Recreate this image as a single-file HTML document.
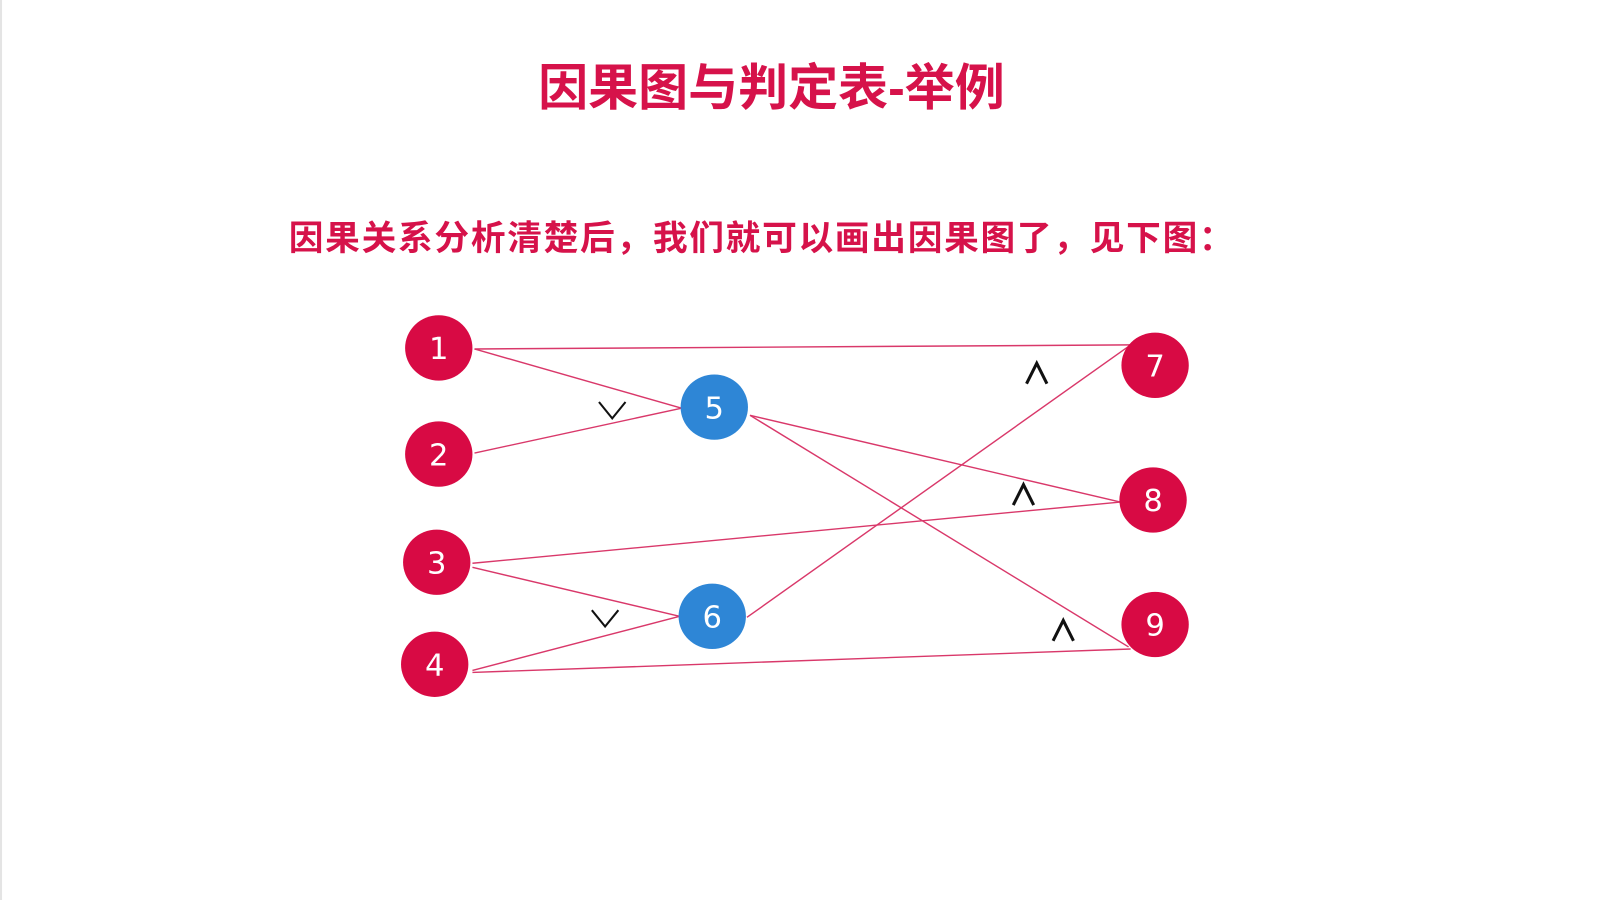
<!DOCTYPE html>
<html><head><meta charset="utf-8"><style>
html,body{margin:0;padding:0;background:#fff;width:1600px;height:900px;overflow:hidden}
svg{display:block}
</style></head><body>
<svg width="1600" height="900" viewBox="0 0 1568 882" xmlns="http://www.w3.org/2000/svg">
<rect x="0" y="0" width="1568" height="882" fill="#fff"/>
<line x1="1" y1="0" x2="1" y2="882" stroke="#e4e4e4" stroke-width="2"/>
<text x="756" y="103" text-anchor="middle" font-family="Liberation Sans, Noto Sans CJK SC, sans-serif" font-weight="bold" font-size="49" fill="#d6124a">因果图与判定表-举例</text>
<text x="283" y="245" font-family="Liberation Sans, Noto Sans CJK SC, sans-serif" font-weight="bold" font-size="34" fill="#d6124a" textLength="926">因果关系分析清楚后，我们就可以画出因果图了，见下图：</text>
<g stroke="#d9386a" stroke-width="1.4" fill="none">
<line x1="465" y1="342" x2="1108" y2="338"/>
<line x1="465" y1="342" x2="668" y2="400"/>
<line x1="465" y1="444" x2="668" y2="400"/>
<line x1="735" y1="407" x2="1098" y2="492"/>
<line x1="735" y1="407" x2="1106" y2="634"/>
<line x1="463" y1="552" x2="1098" y2="492"/>
<line x1="463" y1="556" x2="666" y2="604"/>
<line x1="463" y1="657" x2="666" y2="604"/>
<line x1="463" y1="659" x2="1108" y2="636"/>
<line x1="732" y1="605" x2="1108" y2="338"/>
</g>
<g fill="#d80a44">
<ellipse cx="430" cy="341" rx="33" ry="32"/>
<ellipse cx="430" cy="445" rx="33" ry="32"/>
<ellipse cx="428" cy="551" rx="33" ry="32"/>
<ellipse cx="426" cy="651" rx="33" ry="32"/>
<ellipse cx="1132" cy="358" rx="33" ry="32"/>
<ellipse cx="1130" cy="490" rx="33" ry="32"/>
<ellipse cx="1132" cy="612" rx="33" ry="32"/>
</g>
<g fill="#2e86d6">
<ellipse cx="700" cy="399" rx="33" ry="32"/>
<ellipse cx="698" cy="604" rx="33" ry="32"/>
</g>
<g font-family="DejaVu Sans, Liberation Sans, sans-serif" font-size="30" fill="#fff" text-anchor="middle">
<text x="430" y="352">1</text><text x="430" y="456">2</text><text x="428" y="562">3</text><text x="426" y="662">4</text>
<text x="700" y="410">5</text><text x="698" y="615">6</text>
<text x="1132" y="369">7</text><text x="1130" y="501">8</text><text x="1132" y="623">9</text>
</g>
<g stroke="#111" stroke-width="2" fill="none">
<polyline points="587,394 600,410 613,394"/>
<polyline points="580,598 593,614 606,598"/>
<polyline points="1006,376 1016,356 1026,376" stroke-width="3"/>
<polyline points="993,495 1003,475 1013,495" stroke-width="3"/>
<polyline points="1032,628 1042,608 1052,628" stroke-width="3"/>
</g>
</svg>
</body></html>
